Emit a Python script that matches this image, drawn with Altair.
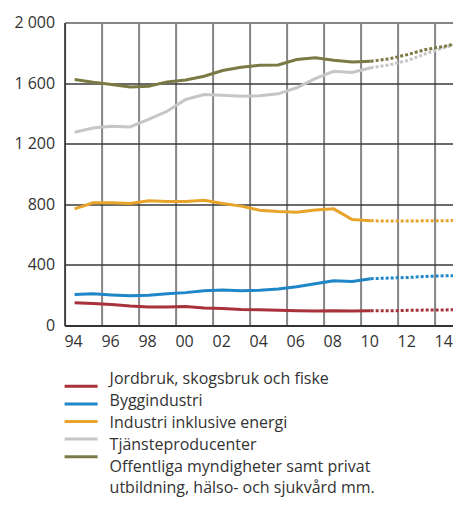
import altair as alt
import pandas as pd

# ---------------- data ----------------
years = list(range(1994, 2016))
last_actual = 2010

series_names = [
    "Jordbruk, skogsbruk och fiske",
    "Byggindustri",
    "Industri inklusive energi",
    "Tjänsteproducenter",
    "Offentliga myndigheter samt privat utbildning, hälso- och sjukvård mm.",
]
legend_labels = [
    "Jordbruk, skogsbruk och fiske",
    "Byggindustri",
    "Industri inklusive energi",
    "Tjänsteproducenter",
    "Offentliga myndigheter samt privat\nutbildning, hälso- och sjukvård mm.",
]
colors = ["#A8323A", "#1F86C8", "#E8A42A", "#C6C6C6", "#7B7A45"]

jordbruk = [150, 145, 139, 128, 122, 122, 126, 115, 113, 106, 104, 100, 98, 96, 98, 96, 98,
            97, 100, 102, 103, 104]
bygg = [204, 209, 202, 196, 200, 209, 217, 230, 235, 230, 232, 241, 256, 276, 296, 291, 309,
        313, 317, 324, 328, 330]
industri = [770, 810, 810, 805, 823, 818, 818, 827, 805, 788, 761, 752, 748, 763, 770, 700, 691,
            690, 690, 691, 692, 693]
tjanste = [1276, 1304, 1315, 1311, 1360, 1414, 1492, 1525, 1520, 1514, 1516, 1529, 1569, 1630, 1678, 1670, 1701,
           1720, 1749, 1795, 1835, 1865]
offentliga = [1624, 1606, 1591, 1575, 1580, 1608, 1621, 1645, 1683, 1705, 1718, 1720, 1756, 1767, 1751, 1740, 1744,
              1760, 1789, 1822, 1843, 1872]

y_ticks = [0, 400, 800, 1200, 1600, 2000]
x_grid = [1993.46 + 2 * k for k in range(11)]

# ---------------- frames ----------------
all_values = [jordbruk, bygg, industri, tjanste, offentliga]
rows = []
for name, vals in zip(series_names, all_values):
    for yr, v in zip(years, vals):
        rows.append({"series": name, "year": yr, "value": v})
df = pd.DataFrame(rows)
df_act = df[df.year <= last_actual]
df_fc = df[df.year >= last_actual]
leg_df = pd.DataFrame({"series": series_names, "label": legend_labels})

FONT = "Open Sans"
TXT = "#333333"
FS = 16
color_scale = alt.Scale(domain=series_names, range=colors)

x_enc = alt.X(
    "year:Q",
    scale=alt.Scale(domain=[1993.46, 2014.86], nice=False, zero=False),
    axis=alt.Axis(
        values=x_grid,
        labelExpr="substring(toString(round(datum.value + 0.54)), 2)",
        labelOffset=8.5,
        labelFlush=False,
        labelOverlap=False,
        grid=True,
        gridColor="#858585",
        gridWidth=2,
        ticks=False,
        domainColor="#333333",
        domainWidth=2,
        labelPadding=8,
        labelFontSize=FS,
        labelColor=TXT,
        labelFont=FONT,
        title=None,
    ),
)
y_scale = alt.Scale(domain=[0, 2000], nice=False)
y_enc = alt.Y(
    "value:Q",
    scale=y_scale,
    axis=alt.Axis(
        values=y_ticks,
        labelExpr="replace(format(datum.value, ','), ',', ' ')",
        grid=True,
        gridColor={"condition": {"test": "datum.value === 2000", "value": "#858585"}, "value": "#3a3a3a"},
        gridWidth={"condition": {"test": "datum.value === 2000", "value": 2}, "value": 1.3},
        ticks=False,
        domainColor="#333333",
        domainWidth=1.5,
        labelPadding=10,
        labelFontSize=FS,
        labelColor=TXT,
        labelFont=FONT,
        title=None,
    ),
)
y_enc_noaxis = alt.Y("value:Q", scale=y_scale, axis=None)
col_enc = alt.Color("series:N", scale=color_scale, legend=None)

solid = alt.Chart(df_act).mark_line(strokeWidth=3, clip=True).encode(
    x=x_enc, y=y_enc, color=col_enc
)
dotted = alt.Chart(df_fc).mark_line(strokeWidth=3, strokeDash=[3, 2], clip=True).encode(
    x=x_enc, y=y_enc_noaxis, color=col_enc
)

# ---------------- legend (below the plot) ----------------
leg_y = alt.Y(
    "series:N", sort=series_names, axis=None,
    scale=alt.Scale(domain=series_names, range=[355, 443], padding=0),
)
leg_rules = alt.Chart(leg_df).mark_rule(strokeWidth=3).encode(
    y=leg_y, x=alt.value(0), x2=alt.value(33), color=col_enc
)
leg_text = alt.Chart(leg_df).mark_text(
    align="left", baseline="top", dy=-6.6, fontSize=FS, font=FONT,
    lineBreak="\n", lineHeight=21, color=TXT
).encode(y=leg_y, x=alt.value(45), text="label:N")

chart = (
    alt.layer(solid, dotted, leg_rules, leg_text)
    .resolve_scale(y="independent")
    .properties(width=396, height=303,
                padding={"left": 5.6, "top": 6.5, "right": -8, "bottom": 0})
    .configure_view(strokeWidth=0, stroke="transparent")
    .configure(font=FONT)
)

chart.save("out.html", embed_options={"renderer": "svg", "actions": False})
